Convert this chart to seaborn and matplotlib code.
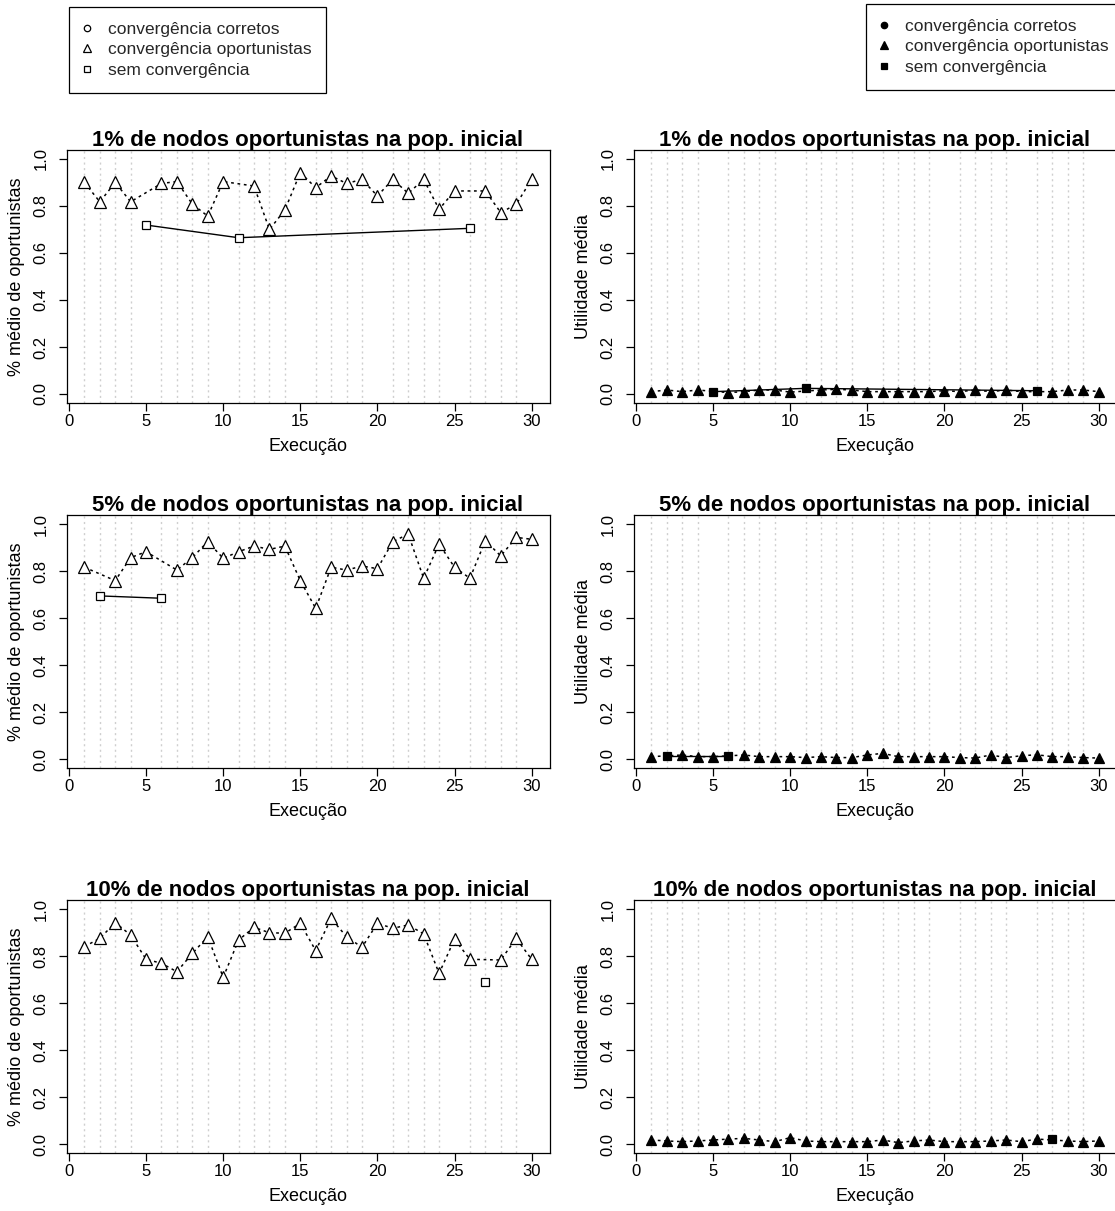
import matplotlib
matplotlib.use("Agg")
import matplotlib.pyplot as plt
import pandas as pd
import seaborn as sns
from matplotlib.lines import Line2D
from matplotlib.ticker import FixedLocator, FormatStrFormatter

# ---------------------------------------------------------------- data
runs = list(range(1, 31))
scenarios = ["1%", "5%", "10%"]

# mean share of opportunist nodes at the end of each run
share_1pct = [0.90, 0.818, 0.90, 0.818, 0.719, 0.896, 0.904, 0.808, 0.757, 0.904,
              0.665, 0.885, 0.700, 0.783, 0.942, 0.878, 0.928, 0.896, 0.913, 0.843,
              0.913, 0.854, 0.913, 0.786, 0.864, 0.705, 0.864, 0.772, 0.807, 0.913]
share_5pct = [0.816, 0.694, 0.759, 0.857, 0.882, 0.684, 0.804, 0.857, 0.925, 0.854,
              0.882, 0.906, 0.892, 0.906, 0.759, 0.641, 0.816, 0.804, 0.821, 0.810,
              0.925, 0.957, 0.769, 0.915, 0.816, 0.769, 0.929, 0.864, 0.943, 0.935]
share_10pct = [0.840, 0.875, 0.942, 0.889, 0.786, 0.769, 0.733, 0.811, 0.882, 0.709,
               0.868, 0.922, 0.899, 0.897, 0.939, 0.823, 0.960, 0.882, 0.837, 0.939,
               0.918, 0.932, 0.894, 0.726, 0.871, 0.786, 0.691, 0.783, 0.875, 0.786]

# mean utility of each run
util_1pct = [0.010, 0.017, 0.010, 0.017, 0.010, 0.006, 0.010, 0.017, 0.017, 0.008,
             0.024, 0.017, 0.020, 0.017, 0.010, 0.010, 0.010, 0.010, 0.010, 0.014,
             0.010, 0.017, 0.010, 0.017, 0.010, 0.014, 0.010, 0.017, 0.017, 0.010]
util_5pct = [0.010, 0.014, 0.017, 0.010, 0.010, 0.014, 0.017, 0.010, 0.010, 0.010,
             0.006, 0.010, 0.006, 0.006, 0.017, 0.024, 0.010, 0.010, 0.010, 0.010,
             0.006, 0.004, 0.017, 0.006, 0.014, 0.018, 0.010, 0.010, 0.006, 0.004]
util_10pct = [0.017, 0.013, 0.010, 0.013, 0.017, 0.021, 0.024, 0.017, 0.010, 0.027,
              0.013, 0.010, 0.010, 0.010, 0.010, 0.017, 0.006, 0.013, 0.017, 0.010,
              0.010, 0.010, 0.013, 0.017, 0.010, 0.021, 0.021, 0.013, 0.010, 0.013]

# runs that ended without convergence
no_conv_1pct = [5, 11, 26]
no_conv_5pct = [2, 6]
no_conv_10pct = [27]

legend_labels = ["convergência corretos", "convergência oportunistas", "sem convergência"]

shares = [share_1pct, share_5pct, share_10pct]
utils = [util_1pct, util_5pct, util_10pct]
no_conv = [no_conv_1pct, no_conv_5pct, no_conv_10pct]

# ---------------------------------------------------------------- style
sns.set_style("white")
plt.rcParams["font.family"] = ["Liberation Sans", "DejaVu Sans"]
plt.rcParams["axes.unicode_minus"] = False

W, H = 1115, 1211
fig = plt.figure(figsize=(W / 100, H / 100), dpi=100)


def rect(x0, top, w, h):
    return [x0 / W, 1 - (top + h) / H, w / W, h / H]


col_left = [66.5, 633.5]
row_top = [149.6, 514.6, 899.6]
ax_w, ax_h = 483, 253.8

DOT = (0, (1.8, 2.4))
GRID_DOT = (0, (1.5, 2.5))

for i, scen in enumerate(scenarios):
    df = pd.DataFrame({"run": runs, "share": shares[i], "util": utils[i]})
    df["status"] = ["nc" if r in no_conv[i] else "opp" for r in runs]
    opp = df[df["status"] == "opp"]
    nc = df[df["status"] == "nc"]

    for j, (col, ylabel) in enumerate([("share", "% médio de oportunistas"),
                                        ("util", "Utilidade média")]):
        ax = fig.add_axes(rect(col_left[j], row_top[i], ax_w, ax_h))
        filled = j == 1
        face = "black" if filled else "white"

        # converged-to-opportunists runs: triangles joined by a dotted line
        sns.lineplot(data=opp, x="run", y=col, ax=ax, color="black",
                     linestyle=DOT, linewidth=1.1, marker="^",
                     markersize=6.6 if filled else 8,
                     markerfacecolor=face, markeredgecolor="black",
                     markeredgewidth=0.9, zorder=3)
        # runs without convergence: squares joined by a solid line
        sns.lineplot(data=nc, x="run", y=col, ax=ax, color="black",
                     linestyle="-", linewidth=1.0, marker="s",
                     markersize=6.0 if filled else 5.2,
                     markerfacecolor=face, markeredgecolor="black",
                     markeredgewidth=0.9, zorder=2)

        ax.set_xlim(-0.16, 31.16)
        ax.set_ylim(-0.04, 1.04)
        ax.set_xticks([0, 5, 10, 15, 20, 25, 30])
        ax.set_yticks([0.0, 0.2, 0.4, 0.6, 0.8, 1.0])
        ax.yaxis.set_major_formatter(FormatStrFormatter("%.1f"))

        # light dotted guide at every run
        ax.xaxis.set_minor_locator(FixedLocator(runs))
        ax.grid(False)
        ax.grid(which="minor", axis="x", color="#cfcfcf",
                linestyle=GRID_DOT, linewidth=1.0)
        ax.set_axisbelow(True)

        ax.tick_params(which="minor", length=0)
        ax.tick_params(which="major", direction="out", length=5.8, width=0.9,
                       labelsize=12, color="black", labelcolor="black",
                       bottom=True, left=True, top=False, right=False)
        ax.tick_params(axis="x", which="major", pad=2)
        ax.tick_params(axis="y", which="major", pad=7, labelrotation=90)
        for lab in ax.get_yticklabels():
            lab.set_va("center")

        for s in ax.spines.values():
            s.set_visible(True)
            s.set_color("black")
            s.set_linewidth(0.9)

        ax.set_xlabel("Execução", fontsize=13, labelpad=6.5, color="black")
        ax.set_ylabel(ylabel, fontsize=13, labelpad=6, color="black")
        ax.set_title(f"{scen} de nodos oportunistas na pop. inicial",
                     fontsize=16, fontweight="bold", pad=2.6, color="black")

# ---------------------------------------------------------------- legends
def legend_handles(filled):
    face = "black" if filled else "white"
    return [Line2D([], [], linestyle="none", marker=m, markersize=ms,
                   markerfacecolor=face, markeredgecolor="black",
                   markeredgewidth=0.9)
            for m, ms in [("o", 4.6), ("^", 5.6), ("s", 4.6)]]


for filled, x0, y0 in [(False, 69, 7), (True, 866, 4)]:
    leg = fig.legend(handles=legend_handles(filled), labels=legend_labels,
                     loc="upper left", bbox_to_anchor=(x0 / W, 1 - y0 / H),
                     bbox_transform=fig.transFigure, frameon=True,
                     fancybox=False, edgecolor="black", framealpha=1,
                     borderaxespad=0, borderpad=0.85, handlelength=0.35,
                     handletextpad=1.04, labelspacing=0.31, fontsize=12.5,
                     numpoints=1)
    leg.get_frame().set_linewidth(0.9)

fig.savefig("out.png", dpi=100)
